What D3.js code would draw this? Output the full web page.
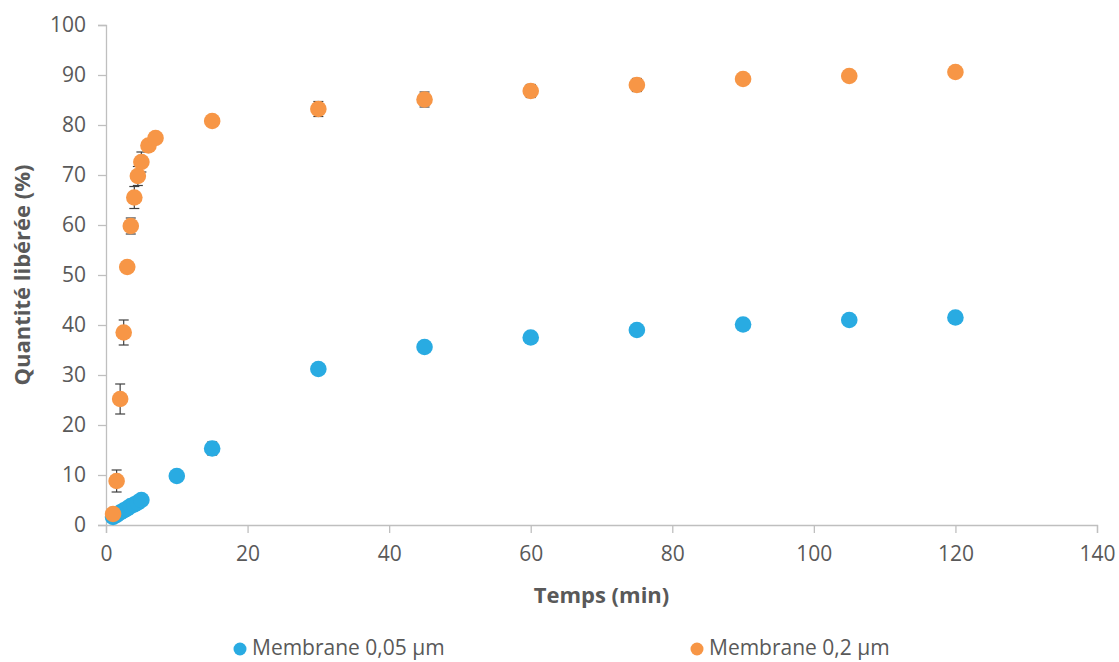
<!DOCTYPE html>
<html><head><meta charset="utf-8">
<script src="https://cdn.jsdelivr.net/npm/d3@7"></script>
<style>
body{margin:0;background:#fff;}
text{font-family:"Open Sans","Noto Sans",sans-serif;fill:#595959;}
</style></head>
<body>
<svg id="c" width="1119" height="662"></svg>
<script>
// Data
const timeOrange = [1,1.5,2,2.5,3,3.5,4,4.5,5,6,7,15,30,45,60,75,90,105,120];
const valOrange  = [2.2,8.8,25.2,38.5,51.6,59.8,65.5,69.8,72.6,75.9,77.4,80.8,83.2,85.1,86.8,88.0,89.2,89.8,90.6];
const errOrange  = [0.3,2.2,3.0,2.5,0.5,1.6,2.2,1.9,2.0,0.8,0.6,1.0,1.5,1.5,1.3,1.3,0.8,0.6,0.5];
const timeBlue = [1,1.5,2,2.5,3,3.5,4,4.5,5,10,15,30,45,60,75,90,105,120];
const valBlue  = [1.6,2.0,2.5,2.9,3.3,3.8,4.1,4.5,5.0,9.8,15.3,31.2,35.6,37.5,39.0,40.1,41.0,41.5];
const errBlue  = [0.2,0.2,0.3,0.3,0.3,0.3,0.4,0.4,0.6,0.5,1.3,0.6,0.6,0.5,0.6,0.5,0.4,0.4];
const xTicks = [0,20,40,60,80,100,120,140];
const yTicks = [0,10,20,30,40,50,60,70,80,90,100];
const seriesNames = ["Membrane 0,05 µm","Membrane 0,2 µm"];
const colors = ["#29ABE2","#F79646"];

const svg = d3.select("#c");
const L=106,R=1097,T=25,B=525;
const x = d3.scaleLinear().domain([0,140]).range([L,R]);
const y = d3.scaleLinear().domain([0,100]).range([B,T]);

// Axes
const gy = svg.append("g").attr("transform",`translate(${L},0)`)
  .call(d3.axisLeft(y).tickValues(yTicks).tickSize(8).tickPadding(12));
const gx = svg.append("g").attr("transform",`translate(0,${B})`)
  .call(d3.axisBottom(x).tickValues(xTicks).tickSize(8).tickPadding(13));
[gy,gx].forEach(g=>{
  g.selectAll("path,line").attr("stroke","#BFBFBF").attr("stroke-width",1.3);
  g.selectAll("text").attr("fill","#595959").style("font-size","21px");
});

// Axis titles
svg.append("text").attr("x",(L+R)/2).attr("y",603).attr("text-anchor","middle")
  .style("font-size","22px").style("font-weight","bold").text("Temps (min)");
svg.append("text").attr("transform",`translate(30,${(T+B)/2}) rotate(-90)`).attr("text-anchor","middle")
  .style("font-size","22px").style("font-weight","bold").text("Quantité libérée (%)");

function drawSeries(ts,vs,es,color){
  const data = ts.map((t,i)=>({t,v:vs[i],e:es[i]}));
  const g = svg.append("g");
  const eb = g.selectAll("g.eb").data(data).join("g");
  eb.append("line").attr("x1",d=>x(d.t)).attr("x2",d=>x(d.t))
    .attr("y1",d=>y(d.v+d.e)).attr("y2",d=>y(d.v-d.e));
  eb.append("line").attr("x1",d=>x(d.t)-5).attr("x2",d=>x(d.t)+5)
    .attr("y1",d=>y(d.v+d.e)).attr("y2",d=>y(d.v+d.e));
  eb.append("line").attr("x1",d=>x(d.t)-5).attr("x2",d=>x(d.t)+5)
    .attr("y1",d=>y(d.v-d.e)).attr("y2",d=>y(d.v-d.e));
  eb.selectAll("line").attr("stroke","#404040").attr("stroke-width",1.2);
  g.selectAll("circle").data(data).join("circle")
    .attr("cx",d=>x(d.t)).attr("cy",d=>y(d.v)).attr("r",8.3).attr("fill",color);
}
drawSeries(timeBlue,valBlue,errBlue,colors[0]);
drawSeries(timeOrange,valOrange,errOrange,colors[1]);

// Legend
const legX=[240,697];
seriesNames.forEach((n,i)=>{
  svg.append("circle").attr("cx",legX[i]).attr("cy",649).attr("r",6.5).attr("fill",colors[i]);
  svg.append("text").attr("x",legX[i]+12).attr("y",655).style("font-size","21px").text(n);
});
</script>
</body></html>
